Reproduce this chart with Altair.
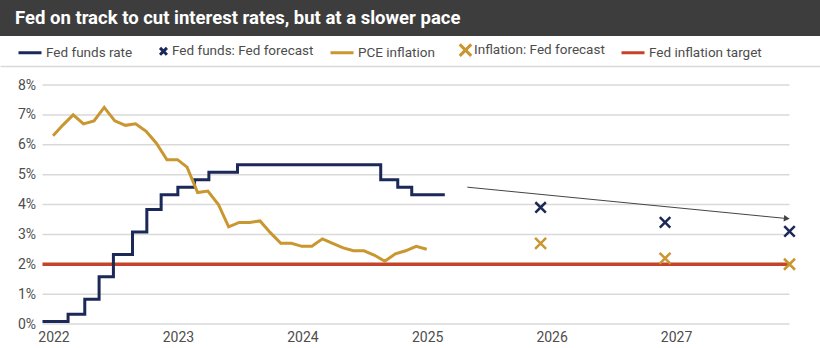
import altair as alt
import pandas as pd

TITLE = "Fed on track to cut interest rates, but at a slower pace"

# Fed funds (effective) rate, step changes
ff_dates = ["2022-01-01", "2022-03-17", "2022-05-05", "2022-06-16", "2022-07-28",
            "2022-09-22", "2022-11-03", "2022-12-15", "2023-02-02", "2023-03-23",
            "2023-05-04", "2023-07-27", "2024-09-19", "2024-11-08", "2024-12-19",
            "2025-03-26"]
ff_rates = [0.08, 0.33, 0.83, 1.58, 2.33, 3.08, 3.83, 4.33, 4.58, 4.83,
            5.08, 5.33, 4.83, 4.58, 4.33, 4.33]

# PCE inflation (y/y), monthly
pce_dates = ["2022-02-01", "2022-03-01", "2022-04-01", "2022-05-01", "2022-06-01",
             "2022-07-01", "2022-08-01", "2022-09-01", "2022-10-01", "2022-11-01",
             "2022-12-01", "2023-01-01", "2023-02-01", "2023-03-01", "2023-04-01",
             "2023-05-01", "2023-06-01", "2023-07-01", "2023-08-01", "2023-09-01",
             "2023-10-01", "2023-11-01", "2023-12-01", "2024-01-01", "2024-02-01",
             "2024-03-01", "2024-04-01", "2024-05-01", "2024-06-01", "2024-07-01",
             "2024-08-01", "2024-09-01", "2024-10-01", "2024-11-01", "2024-12-01",
             "2025-01-01", "2025-02-01"]
pce_vals = [6.3, 6.65, 7.0, 6.7, 6.8, 7.25, 6.8, 6.65, 6.7, 6.45, 6.05, 5.5,
            5.5, 5.25, 4.4, 4.45, 4.0, 3.25, 3.4, 3.4, 3.45, 3.05, 2.7, 2.7,
            2.6, 2.6, 2.85, 2.7, 2.55, 2.45, 2.45, 2.3, 2.1, 2.35, 2.45, 2.6,
            2.5]

# Fed projections
fc_dates = ["2026-01-01", "2027-01-01", "2028-01-01"]
ff_fc = [3.9, 3.4, 3.1]
pce_fc = [2.7, 2.2, 2.0]

# Inflation target
target_dates = ["2022-01-01", "2028-01-01"]
target_vals = [2.0, 2.0]

# Trend arrow
arrow_dates = ["2025-05-31", "2027-12-24"]
arrow_vals = [4.58, 3.53]

year_ticks = [2022, 2023, 2024, 2025, 2026, 2027]
y_ticks = [0, 1, 2, 3, 4, 5, 6, 7, 8]

series_names = ["Fed funds rate", "Fed funds: Fed forecast", "PCE inflation",
                "Inflation: Fed forecast", "Fed inflation target"]

NAVY = "#1b2858"
GOLD = "#c9962f"
RED = "#c4432b"
GRID = "#d9d9d9"
TEXT = "#4d4d4d"
FONT = "Roboto"

series_colors = [NAVY, NAVY, GOLD, GOLD, RED]
LINE_SYM = "M-1,0L1,0"
series_symbols = [LINE_SYM,
                  "M0.35,-0.3L0.95,0.3M0.95,-0.3L0.35,0.3",
                  LINE_SYM,
                  "M0.15,-0.5L1.15,0.5M1.15,-0.5L0.15,0.5",
                  LINE_SYM]
X_PATH = "M-1,-1L1,1M1,-1L-1,1"

# ---------- data frames ----------
ff_df = pd.DataFrame({"date": ff_dates, "value": ff_rates})
pce_df = pd.DataFrame({"date": pce_dates, "value": pce_vals})
fcff_df = pd.DataFrame({"date": fc_dates, "value": ff_fc})
fcpce_df = pd.DataFrame({"date": fc_dates, "value": pce_fc})
target_df = pd.DataFrame({"date": target_dates, "value": target_vals})
arrow_df = pd.DataFrame({"date": arrow_dates, "value": arrow_vals})
head_df = arrow_df.tail(1)
grid_df = pd.DataFrame({"value": y_ticks, "date": target_dates[0], "end": target_dates[-1]})

# ---------- scales / axes ----------
PLOT_W = 820
xscale = alt.Scale(type="utc",
                   domain=[alt.DateTime(year=2022, month=1, date=1, utc=True),
                           alt.DateTime(year=2028, month=1, date=1, utc=True)],
                   range=[42.5, 789.5])
xaxis = alt.Axis(values=[alt.DateTime(year=y, month=1, date=1, utc=True) for y in year_ticks],
                 labelExpr="utcFormat(datum.value, '%Y')", labelFlush=False,
                 labelOffset=11, grid=False, domain=False, ticks=False, labelPadding=6,
                 labelFont=FONT, labelFontSize=14, labelColor=TEXT, title=None)
yscale = alt.Scale(domain=[0, 8], nice=False, zero=True)
yaxis = alt.Axis(values=y_ticks, labelExpr="datum.value + '%'", grid=False,
                 domain=False, ticks=False, offset=-42.5, labelPadding=7,
                 labelFont=FONT, labelFontSize=14, labelColor=TEXT, title=None)


def enc(chart):
    return chart.encode(
        x=alt.X("date:T", scale=xscale, axis=xaxis),
        y=alt.Y("value:Q", scale=yscale, axis=yaxis),
    )


grid = enc(alt.Chart(grid_df).mark_rule(color=GRID, strokeWidth=1.5)).encode(x2="end:T")
target = enc(alt.Chart(target_df).mark_line(color=RED, strokeWidth=3.5))
ff = enc(alt.Chart(ff_df).mark_line(color=NAVY, strokeWidth=3, interpolate="step-after"))
pce = enc(alt.Chart(pce_df).mark_line(color=GOLD, strokeWidth=3))
arrow = enc(alt.Chart(arrow_df).mark_line(color="#444444", strokeWidth=1))
head = enc(alt.Chart(head_df).mark_point(shape="triangle-right", filled=True, color="#444444",
                                        size=45, angle=5.6, opacity=1))
fcff = enc(alt.Chart(fcff_df).mark_point(shape=X_PATH, filled=False, color=NAVY,
                                        strokeWidth=2.5, size=110, opacity=1))
fcpce = enc(alt.Chart(fcpce_df).mark_point(shape=X_PATH, filled=False, color=GOLD,
                                          strokeWidth=2.5, size=121, opacity=1))

plot = alt.layer(grid, target, ff, pce, arrow, head, fcff, fcpce).properties(
    width=PLOT_W, height=239, view=alt.ViewBackground(fill="white", strokeWidth=0)
)

# ---------- legend band ----------
leg = alt.Legend(orient="none", legendX=17, legendY=1, direction="horizontal", title=None,
                 symbolSize=529, symbolStrokeWidth=3, labelFont=FONT, labelFontSize=13.5,
                 labelColor=TEXT, labelOffset=3, columnPadding=10, padding=0,
                 symbolOpacity=1)
legend_df = pd.DataFrame({"series": series_names})
legend_panel = alt.Chart(legend_df).transform_filter("false").mark_point(
    filled=False, strokeWidth=3, opacity=1
).encode(
    x=alt.X("series:N", scale=alt.Scale(domain=series_names),
            axis=alt.Axis(labels=False, ticks=False, title=None, domainColor=GRID,
                          domainWidth=1.5, grid=False)),
    color=alt.Color("series:N", scale=alt.Scale(domain=series_names, range=series_colors),
                    legend=leg),
    shape=alt.Shape("series:N", scale=alt.Scale(domain=series_names, range=series_symbols),
                    legend=leg),
).properties(width=820, height=30, view=alt.ViewBackground(fill="white", strokeWidth=0))

# ---------- title bar ----------
title_df = pd.DataFrame({"t": [TITLE]})
title_panel = alt.Chart(title_df).mark_text(
    align="left", baseline="middle", color="white", font=FONT, fontSize=18.5,
    fontWeight="bold"
).encode(text="t:N", x=alt.value(15), y=alt.value(18)).properties(
    width=820, height=36, view=alt.ViewBackground(fill="#3d3d3d", strokeWidth=0)
)

inner = alt.vconcat(legend_panel, plot, spacing=12).resolve_scale(
    color="independent", shape="independent"
).resolve_legend(color="independent", shape="independent")

chart = alt.vconcat(title_panel, inner, spacing=0).properties(
    padding=0, background="white"
).configure_view(strokeWidth=0)

chart.save("out.html", embed_options={"renderer": "svg", "actions": False})
